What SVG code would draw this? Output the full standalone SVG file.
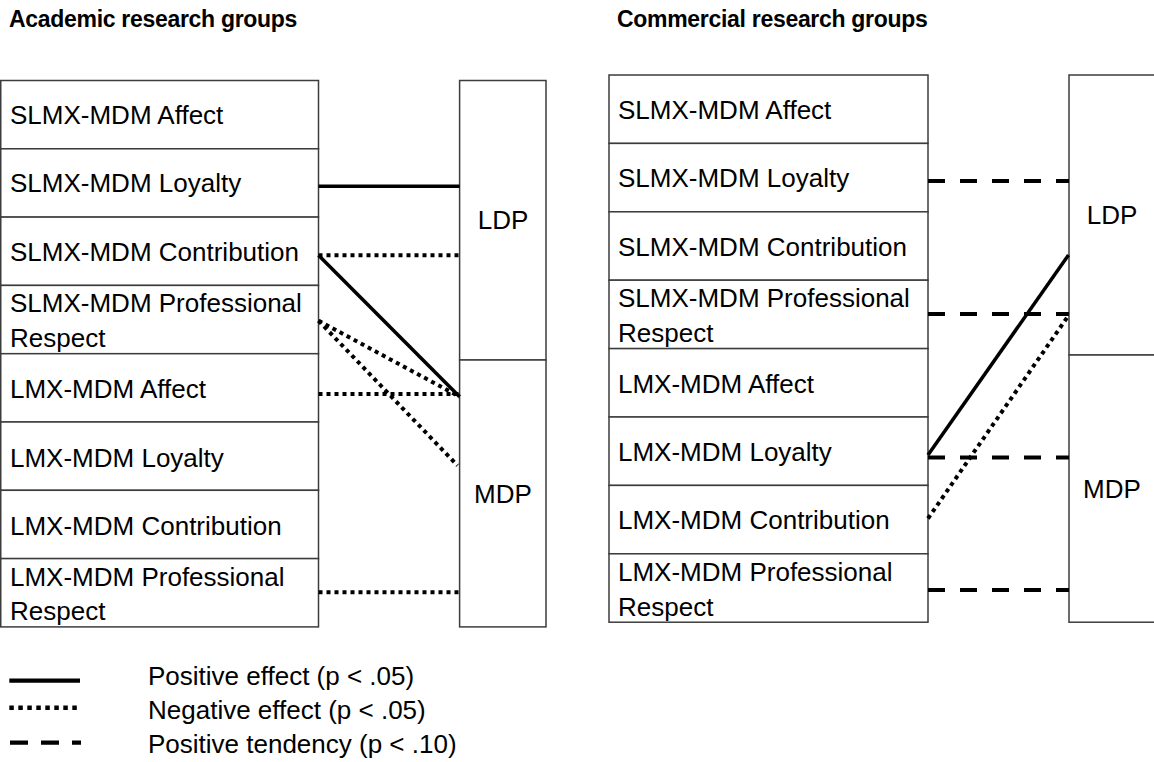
<svg xmlns="http://www.w3.org/2000/svg" width="1154" height="762" viewBox="0 0 1154 762">
<style>
.bg{fill:#fff}
.box{fill:#fff;stroke:#3c3c3c;stroke-width:1.5}
.t{font-family:"Liberation Sans",Arial,sans-serif;font-size:26px;fill:#000}
.c{text-anchor:middle}
.h{font-family:"Liberation Sans",Arial,sans-serif;font-size:23px;font-weight:bold;fill:#000;letter-spacing:-0.3px}
.solid{stroke:#000;stroke-width:3.5;fill:none}
.dot{stroke:#000;stroke-width:4;stroke-dasharray:4 4;fill:none}
.dash{stroke:#000;stroke-width:4;stroke-dasharray:17 15;fill:none}
</style>
<rect class="bg" x="0" y="0" width="1154" height="762"/>
<g id="titles">
<text class="h" x="9" y="27">Academic research groups</text>
<text class="h" x="617" y="27">Commercial research groups</text>
</g>
<!-- Academic panel -->
<g id="a-slmx-affect"><rect class="box" x="0.75" y="80.5" width="317.75" height="68.3"/><text class="t" x="10" y="124">SLMX-MDM Affect</text></g>
<g id="a-slmx-loyalty"><rect class="box" x="0.75" y="148.8" width="317.75" height="68.3"/><text class="t" x="10" y="192">SLMX-MDM Loyalty</text></g>
<g id="a-slmx-contribution"><rect class="box" x="0.75" y="217.1" width="317.75" height="68.3"/><text class="t" x="10" y="261">SLMX-MDM Contribution</text></g>
<g id="a-slmx-respect"><rect class="box" x="0.75" y="285.4" width="317.75" height="68.3"/><text class="t" x="10" y="312">SLMX-MDM Professional</text><text class="t" x="10" y="347">Respect</text></g>
<g id="a-lmx-affect"><rect class="box" x="0.75" y="353.7" width="317.75" height="68.3"/><text class="t" x="10" y="398">LMX-MDM Affect</text></g>
<g id="a-lmx-loyalty"><rect class="box" x="0.75" y="422" width="317.75" height="68.3"/><text class="t" x="10" y="467">LMX-MDM Loyalty</text></g>
<g id="a-lmx-contribution"><rect class="box" x="0.75" y="490.3" width="317.75" height="68.3"/><text class="t" x="10" y="535">LMX-MDM Contribution</text></g>
<g id="a-lmx-respect"><rect class="box" x="0.75" y="558.6" width="317.75" height="68.3"/><text class="t" x="10" y="586">LMX-MDM Professional</text><text class="t" x="10" y="620">Respect</text></g>
<g id="a-ldp"><rect class="box" x="459.6" y="80.5" width="86.4" height="279.5"/><text class="t c" x="503" y="229">LDP</text></g>
<g id="a-mdp"><rect class="box" x="459.6" y="360" width="86.4" height="266.9"/><text class="t c" x="503" y="503">MDP</text></g>
<!-- Commercial panel -->
<g id="c-slmx-affect"><rect class="box" x="609" y="75" width="319" height="68.4"/><text class="t" x="618" y="119">SLMX-MDM Affect</text></g>
<g id="c-slmx-loyalty"><rect class="box" x="609" y="143.4" width="319" height="68.4"/><text class="t" x="618" y="187.4">SLMX-MDM Loyalty</text></g>
<g id="c-slmx-contribution"><rect class="box" x="609" y="211.8" width="319" height="68.4"/><text class="t" x="618" y="255.8">SLMX-MDM Contribution</text></g>
<g id="c-slmx-respect"><rect class="box" x="609" y="280.2" width="319" height="68.4"/><text class="t" x="618" y="307">SLMX-MDM Professional</text><text class="t" x="618" y="342">Respect</text></g>
<g id="c-lmx-affect"><rect class="box" x="609" y="348.6" width="319" height="68.4"/><text class="t" x="618" y="392.6">LMX-MDM Affect</text></g>
<g id="c-lmx-loyalty"><rect class="box" x="609" y="417" width="319" height="68.4"/><text class="t" x="618" y="461">LMX-MDM Loyalty</text></g>
<g id="c-lmx-contribution"><rect class="box" x="609" y="485.4" width="319" height="68.4"/><text class="t" x="618" y="529.4">LMX-MDM Contribution</text></g>
<g id="c-lmx-respect"><rect class="box" x="609" y="553.8" width="319" height="68.4"/><text class="t" x="618" y="581">LMX-MDM Professional</text><text class="t" x="618" y="616">Respect</text></g>
<g id="c-ldp"><rect class="box" x="1069" y="75" width="87" height="280"/><text class="t c" x="1112" y="224">LDP</text></g>
<g id="c-mdp"><rect class="box" x="1069" y="355" width="87" height="267.2"/><text class="t c" x="1112" y="498">MDP</text></g>
<g id="connectors">
<line class="solid" x1="318.5" y1="186.3" x2="459.6" y2="186.3"/>
<line class="dot" x1="318.5" y1="255.3" x2="459.6" y2="255.3"/>
<line class="solid" x1="318.5" y1="255.3" x2="459.6" y2="396.7"/>
<line class="dot" x1="318.5" y1="320.7" x2="459.6" y2="396.7"/>
<line class="dot" x1="318.5" y1="320.7" x2="457.5" y2="465.5"/>
<line class="dot" x1="318.5" y1="394" x2="459.6" y2="394"/>
<line class="dot" x1="318.5" y1="592.3" x2="459.6" y2="592.3"/>
<line class="dash" x1="928" y1="181" x2="1069" y2="181"/>
<line class="dash" x1="928" y1="314" x2="1069" y2="314"/>
<line class="solid" x1="928" y1="455" x2="1068.5" y2="255"/>
<line class="dot" x1="928" y1="518.5" x2="1067.5" y2="317"/>
<line class="dash" x1="928" y1="457.5" x2="1069" y2="457.5"/>
<line class="dash" x1="928" y1="590" x2="1069" y2="590"/>
</g>
<g id="legend">
<line x1="9.3" y1="680.7" x2="80" y2="680.7" stroke="#000" stroke-width="4.3"/>
<line x1="9.3" y1="707.7" x2="78" y2="707.7" stroke="#000" stroke-width="4.5" stroke-dasharray="4.5 4.5"/>
<line x1="10" y1="742.7" x2="81" y2="742.7" stroke="#000" stroke-width="4.3" stroke-dasharray="18 13"/>
<text class="t" x="148" y="685">Positive effect (p &lt; .05)</text>
<text class="t" x="148" y="719">Negative effect (p &lt; .05)</text>
<text class="t" x="148" y="753">Positive tendency (p &lt; .10)</text>
</g>
</svg>
